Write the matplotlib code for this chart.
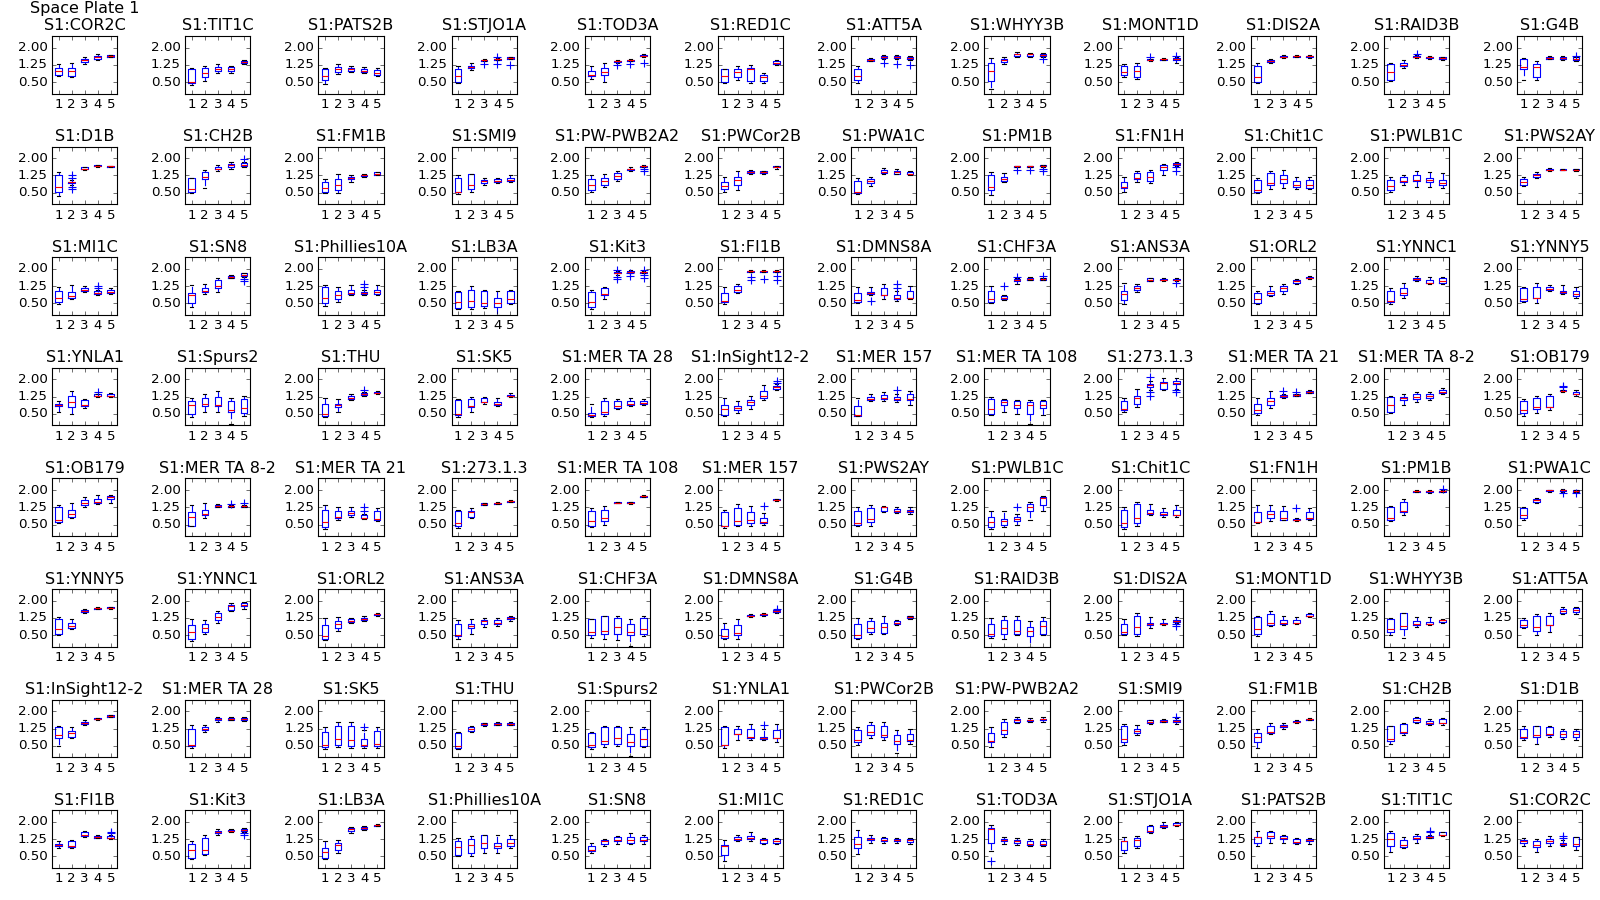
import matplotlib
matplotlib.use('Agg')
import matplotlib.pyplot as plt

plt.style.use('classic')

PLATE = 'Space Plate 1'

names = [
    'COR2C', 'TIT1C', 'PATS2B', 'STJO1A', 'TOD3A', 'RED1C', 'ATT5A', 'WHYY3B', 'MONT1D', 'DIS2A', 'RAID3B', 'G4B',
    'D1B', 'CH2B', 'FM1B', 'SMI9', 'PW-PWB2A2', 'PWCor2B', 'PWA1C', 'PM1B', 'FN1H', 'Chit1C', 'PWLB1C', 'PWS2AY',
    'MI1C', 'SN8', 'Phillies10A', 'LB3A', 'Kit3', 'FI1B', 'DMNS8A', 'CHF3A', 'ANS3A', 'ORL2', 'YNNC1', 'YNNY5',
    'YNLA1', 'Spurs2', 'THU', 'SK5', 'MER TA 28', 'InSight12-2', 'MER 157', 'MER TA 108', '273.1.3', 'MER TA 21', 'MER TA 8-2', 'OB179',
    'OB179', 'MER TA 8-2', 'MER TA 21', '273.1.3', 'MER TA 108', 'MER 157', 'PWS2AY', 'PWLB1C', 'Chit1C', 'FN1H', 'PM1B', 'PWA1C',
    'YNNY5', 'YNNC1', 'ORL2', 'ANS3A', 'CHF3A', 'DMNS8A', 'G4B', 'RAID3B', 'DIS2A', 'MONT1D', 'WHYY3B', 'ATT5A',
    'InSight12-2', 'MER TA 28', 'SK5', 'THU', 'Spurs2', 'YNLA1', 'PWCor2B', 'PW-PWB2A2', 'SMI9', 'FM1B', 'CH2B', 'D1B',
    'FI1B', 'Kit3', 'LB3A', 'Phillies10A', 'SN8', 'MI1C', 'RED1C', 'TOD3A', 'STJO1A', 'PATS2B', 'TIT1C', 'COR2C',
]

# per panel: 5 boxes of (whisker low, q1, median, q3, whisker high)
boxes = [
    [(0.76, 0.81, 1.0, 1.13, 1.3), (0.73, 0.76, 1.0, 1.1, 1.33), (1.3, 1.38, 1.45, 1.52, 1.6), (1.45, 1.52, 1.57, 1.62, 1.7), (1.58, 1.6, 1.63, 1.66, 1.68)],
    [(0.38, 0.48, 0.52, 1.05, 1.1), (0.55, 0.72, 0.88, 1.12, 1.18), (0.9, 1.0, 1.08, 1.15, 1.28), (0.88, 1.0, 1.08, 1.15, 1.2), (1.3, 1.35, 1.38, 1.42, 1.48)],
    [(0.4, 0.6, 0.75, 1.05, 1.1), (0.85, 0.95, 1.05, 1.15, 1.28), (0.95, 1.0, 1.08, 1.13, 1.2), (0.9, 0.95, 1.0, 1.08, 1.15), (0.75, 0.8, 0.9, 1.02, 1.1)],
    [(0.48, 0.5, 0.75, 1.05, 1.2), (1.02, 1.1, 1.15, 1.2, 1.35), (1.4, 1.42, 1.45, 1.48, 1.52), (1.45, 1.47, 1.5, 1.52, 1.55), (1.5, 1.52, 1.55, 1.57, 1.6)],
    [(0.65, 0.75, 0.8, 1.0, 1.2), (0.5, 0.8, 0.95, 1.1, 1.35), (1.35, 1.38, 1.4, 1.42, 1.45), (1.4, 1.42, 1.45, 1.47, 1.5), (1.6, 1.62, 1.65, 1.67, 1.7)],
    [(0.45, 0.5, 0.75, 1.05, 1.08), (0.6, 0.7, 0.95, 1.05, 1.2), (0.45, 0.55, 1.05, 1.1, 1.25), (0.45, 0.55, 0.7, 0.82, 0.9), (1.25, 1.3, 1.35, 1.4, 1.45)],
    [(0.45, 0.6, 0.75, 1.05, 1.2), (1.4, 1.42, 1.45, 1.5, 1.55), (1.5, 1.55, 1.6, 1.62, 1.68), (1.5, 1.55, 1.58, 1.62, 1.68), (1.45, 1.5, 1.55, 1.58, 1.62)],
    [(0.2, 0.55, 1.0, 1.35, 1.55), (1.3, 1.38, 1.45, 1.52, 1.6), (1.6, 1.65, 1.7, 1.74, 1.8), (1.58, 1.65, 1.7, 1.73, 1.78), (1.6, 1.63, 1.67, 1.72, 1.75)],
    [(0.7, 0.8, 0.95, 1.2, 1.3), (0.65, 0.7, 1.0, 1.2, 1.35), (1.42, 1.45, 1.48, 1.5, 1.52), (1.45, 1.47, 1.5, 1.52, 1.55), (1.35, 1.45, 1.5, 1.53, 1.6)],
    [(0.45, 0.5, 0.7, 1.2, 1.35), (1.32, 1.38, 1.42, 1.45, 1.5), (1.55, 1.58, 1.6, 1.63, 1.67), (1.58, 1.6, 1.62, 1.65, 1.68), (1.55, 1.58, 1.62, 1.65, 1.68)],
    [(0.55, 0.6, 0.95, 1.3, 1.32), (1.1, 1.2, 1.25, 1.32, 1.45), (1.55, 1.57, 1.6, 1.62, 1.68), (1.5, 1.55, 1.58, 1.6, 1.65), (1.48, 1.5, 1.55, 1.58, 1.6)],
    [(0.6, 1.05, 1.15, 1.5, 1.55), (0.6, 0.7, 1.15, 1.3, 1.4), (1.5, 1.52, 1.55, 1.6, 1.65), (1.48, 1.52, 1.55, 1.6, 1.65), (1.4, 1.45, 1.5, 1.58, 1.6)],
    # row 2
    [(0.35, 0.55, 0.75, 1.25, 1.4), (0.85, 0.9, 0.95, 0.98, 1.05), (1.48, 1.52, 1.55, 1.6, 1.62), (1.62, 1.64, 1.67, 1.7, 1.72), (1.6, 1.62, 1.65, 1.67, 1.68)],
    [(0.5, 0.55, 0.65, 1.12, 1.15), (0.7, 1.1, 1.2, 1.4, 1.5), (1.45, 1.52, 1.55, 1.6, 1.7), (1.55, 1.62, 1.7, 1.75, 1.85), (1.6, 1.65, 1.72, 1.78, 1.85)],
    [(0.5, 0.55, 0.7, 0.95, 1.1), (0.5, 0.6, 0.85, 1.1, 1.3), (0.95, 1.1, 1.15, 1.2, 1.25), (1.2, 1.23, 1.25, 1.28, 1.32), (1.25, 1.28, 1.32, 1.38, 1.42)],
    [(0.45, 0.55, 0.55, 1.15, 1.25), (0.55, 0.65, 0.85, 1.3, 1.3), (0.85, 0.92, 1.0, 1.05, 1.15), (0.9, 0.97, 1.02, 1.08, 1.15), (0.95, 1.0, 1.05, 1.15, 1.25)],
    [(0.55, 0.6, 0.85, 1.1, 1.25), (0.75, 0.85, 1.0, 1.15, 1.3), (1.0, 1.1, 1.22, 1.35, 1.45), (1.45, 1.5, 1.52, 1.55, 1.6), (1.6, 1.62, 1.65, 1.68, 1.7)],
    [(0.55, 0.65, 0.8, 0.95, 1.2), (0.6, 0.85, 1.05, 1.2, 1.45), (1.3, 1.35, 1.38, 1.45, 1.48), (1.32, 1.35, 1.4, 1.43, 1.45), (1.55, 1.6, 1.63, 1.66, 1.68)],
    [(0.45, 0.5, 0.55, 1.0, 1.15), (0.8, 0.92, 1.0, 1.1, 1.2), (1.3, 1.35, 1.42, 1.47, 1.58), (1.3, 1.33, 1.38, 1.45, 1.52), (1.25, 1.3, 1.33, 1.38, 1.43)],
    [(0.4, 0.6, 0.75, 1.25, 1.38), (0.95, 1.02, 1.1, 1.2, 1.35), (1.6, 1.63, 1.65, 1.67, 1.68), (1.6, 1.63, 1.65, 1.67, 1.68), (1.63, 1.65, 1.67, 1.69, 1.7)],
    [(0.55, 0.7, 0.75, 0.95, 1.2), (0.95, 1.1, 1.15, 1.35, 1.45), (0.9, 1.0, 1.2, 1.4, 1.5), (1.25, 1.5, 1.6, 1.7, 1.75), (1.65, 1.7, 1.75, 1.8, 1.82)],
    [(0.5, 0.55, 0.6, 1.05, 1.15), (0.65, 0.85, 0.9, 1.35, 1.45), (0.7, 0.9, 1.1, 1.25, 1.5), (0.65, 0.75, 0.85, 1.0, 1.2), (0.65, 0.72, 0.85, 1.05, 1.2)],
    [(0.55, 0.6, 0.8, 1.05, 1.2), (0.85, 0.95, 1.0, 1.2, 1.25), (0.75, 1.0, 1.05, 1.25, 1.45), (0.75, 0.95, 1.05, 1.15, 1.4), (0.7, 0.85, 0.9, 1.05, 1.35)],
    [(0.8, 0.85, 0.95, 1.1, 1.2), (1.15, 1.2, 1.25, 1.3, 1.38), (1.45, 1.47, 1.5, 1.53, 1.58), (1.47, 1.48, 1.5, 1.52, 1.55), (1.45, 1.47, 1.5, 1.52, 1.53)],
    # row 3
    [(0.45, 0.55, 0.75, 1.05, 1.2), (0.7, 0.75, 0.8, 1.0, 1.3), (1.0, 1.05, 1.1, 1.15, 1.25), (0.85, 0.9, 0.95, 1.02, 1.1), (0.9, 0.95, 1.0, 1.07, 1.15)],
    [(0.35, 0.5, 0.85, 0.95, 1.3), (0.92, 1.0, 1.05, 1.15, 1.35), (1.0, 1.15, 1.25, 1.5, 1.6), (1.6, 1.62, 1.65, 1.68, 1.72), (1.65, 1.7, 1.75, 1.8, 1.82)],
    [(0.4, 0.5, 0.75, 1.2, 1.3), (0.55, 0.7, 0.85, 1.05, 1.2), (0.85, 0.92, 0.95, 1.1, 1.3), (0.85, 0.9, 0.95, 1.0, 1.1), (0.85, 0.92, 1.0, 1.1, 1.3)],
    [(0.25, 0.3, 0.55, 1.0, 1.05), (0.25, 0.35, 0.6, 1.1, 1.25), (0.3, 0.4, 0.5, 1.05, 1.1), (0.0, 0.35, 0.5, 0.75, 1.05), (0.45, 0.5, 0.7, 1.05, 1.08)],
    [(0.25, 0.35, 0.55, 1.0, 1.1), (0.7, 0.85, 0.9, 1.15, 1.2), (1.75, 1.8, 1.82, 1.85, 1.9), (1.82, 1.85, 1.88, 1.9, 1.95), (1.8, 1.83, 1.85, 1.88, 1.92)],
    [(0.45, 0.55, 0.6, 0.95, 1.2), (0.95, 1.0, 1.1, 1.25, 1.35), (1.85, 1.87, 1.9, 1.92, 1.95), (1.85, 1.88, 1.9, 1.92, 1.93), (1.85, 1.87, 1.9, 1.92, 1.95)],
    [(0.5, 0.55, 0.65, 0.95, 1.2), (0.85, 0.9, 0.95, 1.0, 1.2), (0.7, 0.85, 0.85, 1.15, 1.35), (0.6, 0.7, 0.75, 0.85, 1.05), (0.7, 0.75, 0.75, 1.05, 1.25)],
    [(0.5, 0.55, 0.7, 1.05, 1.25), (0.65, 0.68, 0.75, 0.82, 0.85), (1.35, 1.45, 1.5, 1.55, 1.6), (1.5, 1.52, 1.55, 1.58, 1.65), (1.5, 1.52, 1.55, 1.58, 1.62)],
    [(0.45, 0.65, 0.9, 1.05, 1.4), (1.0, 1.1, 1.17, 1.25, 1.35), (1.45, 1.48, 1.52, 1.58, 1.62), (1.48, 1.5, 1.52, 1.55, 1.58), (1.48, 1.5, 1.52, 1.55, 1.58)],
    [(0.45, 0.5, 0.7, 0.95, 1.05), (0.82, 0.88, 0.95, 1.05, 1.25), (0.9, 1.05, 1.15, 1.25, 1.35), (1.35, 1.4, 1.45, 1.5, 1.55), (1.55, 1.58, 1.62, 1.65, 1.67)],
    [(0.45, 0.55, 0.6, 1.05, 1.15), (0.75, 0.85, 0.95, 1.15, 1.4), (1.45, 1.5, 1.55, 1.62, 1.7), (1.35, 1.38, 1.4, 1.5, 1.65), (1.35, 1.4, 1.45, 1.6, 1.65)],
    [(0.55, 0.6, 0.7, 1.15, 1.2), (0.5, 0.75, 0.75, 1.2, 1.4), (1.05, 1.08, 1.12, 1.2, 1.3), (0.9, 0.95, 1.0, 1.05, 1.3), (0.75, 0.8, 0.9, 1.05, 1.2)],
    # row 4
    [(0.6, 0.85, 0.9, 0.95, 1.05), (0.5, 0.8, 1.0, 1.3, 1.5), (0.75, 0.85, 0.9, 1.1, 1.15), (1.25, 1.28, 1.3, 1.35, 1.38), (1.25, 1.28, 1.3, 1.35, 1.4)],
    [(0.35, 0.5, 0.9, 1.05, 1.2), (0.6, 0.85, 0.95, 1.2, 1.35), (0.6, 0.85, 0.9, 1.25, 1.5), (0.05, 0.6, 0.65, 1.05, 1.2), (0.4, 0.55, 0.75, 1.15, 1.3)],
    [(0.35, 0.4, 0.5, 0.95, 1.2), (0.6, 0.8, 0.9, 0.95, 1.15), (1.1, 1.15, 1.2, 1.28, 1.38), (1.3, 1.33, 1.35, 1.4, 1.45), (1.38, 1.4, 1.43, 1.47, 1.5)],
    [(0.35, 0.45, 0.5, 1.1, 1.15), (0.6, 0.8, 0.85, 1.15, 1.25), (0.95, 1.0, 1.0, 1.2, 1.25), (0.85, 0.9, 0.95, 1.0, 1.2), (1.22, 1.27, 1.3, 1.33, 1.4)],
    [(0.35, 0.4, 0.45, 0.55, 0.95), (0.4, 0.5, 0.6, 1.05, 1.2), (0.7, 0.75, 0.85, 1.05, 1.15), (0.85, 0.9, 0.95, 1.05, 1.2), (0.9, 0.95, 0.98, 1.05, 1.15)],
    [(0.4, 0.45, 0.7, 0.9, 1.2), (0.55, 0.65, 0.75, 0.85, 1.05), (0.7, 0.9, 1.0, 1.1, 1.3), (1.1, 1.2, 1.3, 1.5, 1.75), (1.55, 1.6, 1.65, 1.7, 1.78)],
    [(0.4, 0.42, 0.45, 0.85, 1.2), (1.05, 1.1, 1.15, 1.25, 1.35), (1.05, 1.15, 1.2, 1.32, 1.45), (1.0, 1.1, 1.15, 1.25, 1.35), (0.9, 1.1, 1.15, 1.35, 1.5)],
    [(0.45, 0.5, 0.7, 1.15, 1.25), (0.6, 0.9, 1.0, 1.1, 1.15), (0.5, 0.75, 0.9, 1.05, 1.1), (0.05, 0.5, 0.9, 1.0, 1.1), (0.45, 0.75, 0.9, 1.05, 1.1)],
    [(0.6, 0.65, 0.7, 1.05, 1.2), (0.8, 0.95, 1.2, 1.3, 1.6), (1.55, 1.65, 1.75, 1.8, 1.95), (1.55, 1.6, 1.85, 1.9, 2.05), (1.6, 1.8, 1.85, 1.95, 2.05)],
    [(0.45, 0.55, 0.65, 0.95, 1.2), (0.75, 0.9, 1.05, 1.2, 1.5), (1.2, 1.22, 1.28, 1.32, 1.38), (1.28, 1.3, 1.32, 1.35, 1.38), (1.4, 1.42, 1.45, 1.48, 1.52)],
    [(0.55, 0.6, 0.9, 1.25, 1.28), (0.9, 1.1, 1.2, 1.25, 1.38), (1.0, 1.15, 1.25, 1.35, 1.45), (1.1, 1.2, 1.3, 1.35, 1.45), (1.35, 1.4, 1.45, 1.55, 1.62)],
    [(0.4, 0.55, 0.65, 1.05, 1.15), (0.55, 0.7, 0.8, 1.2, 1.3), (0.65, 0.8, 0.8, 1.3, 1.35), (1.45, 1.48, 1.5, 1.52, 1.55), (1.3, 1.35, 1.38, 1.45, 1.52)],
    # row 5
    [(0.55, 0.6, 0.7, 1.25, 1.35), (0.8, 0.85, 0.95, 1.15, 1.45), (1.25, 1.35, 1.45, 1.55, 1.7), (1.4, 1.43, 1.48, 1.6, 1.8), (1.45, 1.6, 1.68, 1.75, 1.8)],
    [(0.45, 0.45, 0.85, 1.05, 1.35), (0.8, 0.9, 0.98, 1.15, 1.45), (1.25, 1.27, 1.3, 1.35, 1.38), (1.27, 1.28, 1.3, 1.32, 1.35), (1.25, 1.27, 1.3, 1.32, 1.35)],
    [(0.3, 0.4, 0.6, 1.15, 1.35), (0.7, 0.8, 0.85, 1.1, 1.25), (0.85, 0.9, 1.0, 1.1, 1.25), (0.75, 0.78, 0.8, 0.9, 0.95), (0.65, 0.7, 0.75, 1.1, 1.2)],
    [(0.35, 0.45, 0.55, 1.1, 1.15), (0.8, 0.85, 1.05, 1.1, 1.2), (1.35, 1.37, 1.4, 1.42, 1.45), (1.38, 1.4, 1.42, 1.44, 1.47), (1.47, 1.5, 1.52, 1.54, 1.57)],
    [(0.4, 0.45, 0.65, 1.1, 1.2), (0.5, 0.65, 0.8, 1.15, 1.3), (1.42, 1.43, 1.45, 1.46, 1.48), (1.4, 1.42, 1.45, 1.47, 1.5), (1.68, 1.7, 1.73, 1.75, 1.77)],
    [(0.35, 0.45, 0.45, 1.05, 1.15), (0.45, 0.5, 0.65, 1.2, 1.4), (0.45, 0.55, 0.7, 1.05, 1.3), (0.5, 0.55, 0.6, 0.8, 1.0), (1.52, 1.55, 1.57, 1.6, 1.62)],
    [(0.45, 0.5, 0.55, 1.1, 1.25), (0.45, 0.6, 0.75, 1.2, 1.35), (1.05, 1.1, 1.25, 1.28, 1.3), (1.0, 1.05, 1.1, 1.18, 1.25), (0.95, 1.05, 1.1, 1.15, 1.25)],
    [(0.3, 0.4, 0.6, 0.85, 1.1), (0.4, 0.5, 0.65, 0.75, 1.1), (0.5, 0.65, 0.75, 0.85, 0.95), (0.7, 1.1, 1.25, 1.4, 1.5), (1.1, 1.35, 1.65, 1.7, 1.75)],
    [(0.3, 0.4, 0.55, 1.15, 1.25), (0.45, 0.55, 0.8, 1.4, 1.5), (0.9, 0.95, 1.0, 1.15, 1.4), (0.85, 0.9, 0.95, 1.05, 1.2), (0.85, 0.9, 0.9, 1.15, 1.35)],
    [(0.55, 0.6, 0.6, 1.05, 1.35), (0.65, 0.8, 0.95, 1.1, 1.35), (0.7, 0.7, 0.8, 1.1, 1.3), (0.65, 0.68, 0.7, 0.75, 0.8), (0.7, 0.75, 0.8, 1.05, 1.2)],
    [(0.65, 0.7, 0.8, 1.25, 1.3), (0.9, 1.05, 1.1, 1.5, 1.6), (1.9, 1.92, 1.95, 1.97, 1.98), (1.85, 1.92, 1.95, 1.97, 1.98), (1.9, 1.92, 1.95, 1.97, 1.98)],
    [(0.7, 0.8, 0.9, 1.2, 1.25), (1.45, 1.5, 1.55, 1.6, 1.65), (1.93, 1.95, 1.98, 2.0, 2.02), (1.9, 1.95, 1.98, 2.0, 2.03), (1.9, 1.93, 1.97, 1.99, 2.02)],
    # row 6
    [(0.5, 0.55, 0.75, 1.2, 1.3), (0.75, 0.8, 0.9, 1.05, 1.2), (1.45, 1.5, 1.55, 1.58, 1.62), (1.62, 1.65, 1.68, 1.7, 1.72), (1.65, 1.67, 1.7, 1.72, 1.73)],
    [(0.25, 0.35, 0.65, 0.95, 1.2), (0.55, 0.65, 0.8, 1.0, 1.15), (1.05, 1.15, 1.3, 1.45, 1.55), (1.55, 1.6, 1.75, 1.8, 1.9), (1.65, 1.78, 1.8, 1.88, 1.95)],
    [(0.3, 0.35, 0.45, 0.95, 1.25), (0.7, 0.8, 1.0, 1.1, 1.3), (1.05, 1.08, 1.1, 1.2, 1.25), (1.12, 1.15, 1.2, 1.25, 1.32), (1.35, 1.37, 1.4, 1.43, 1.45)],
    [(0.35, 0.45, 0.5, 1.0, 1.15), (0.55, 0.8, 0.9, 1.0, 1.2), (0.85, 1.0, 1.1, 1.15, 1.25), (0.9, 0.97, 1.05, 1.15, 1.25), (1.1, 1.2, 1.25, 1.3, 1.35)],
    [(0.4, 0.5, 0.65, 1.2, 1.2), (0.35, 0.55, 0.7, 1.35, 1.35), (0.3, 0.55, 0.85, 1.25, 1.35), (0.05, 0.5, 0.65, 1.0, 1.2), (0.45, 0.55, 0.75, 1.25, 1.35)],
    [(0.35, 0.4, 0.45, 0.75, 1.05), (0.35, 0.5, 0.6, 0.95, 1.2), (1.3, 1.32, 1.35, 1.37, 1.4), (1.35, 1.37, 1.4, 1.43, 1.45), (1.45, 1.5, 1.55, 1.6, 1.62)],
    [(0.35, 0.4, 0.5, 1.0, 1.25), (0.55, 0.65, 0.8, 1.1, 1.25), (0.55, 0.6, 0.85, 1.05, 1.35), (0.95, 1.0, 1.05, 1.12, 1.15), (1.2, 1.25, 1.28, 1.32, 1.35)],
    [(0.4, 0.45, 0.55, 1.0, 1.25), (0.35, 0.55, 0.8, 1.15, 1.35), (0.5, 0.55, 0.7, 1.15, 1.35), (0.0, 0.45, 0.7, 0.85, 1.1), (0.5, 0.55, 0.9, 1.1, 1.3)],
    [(0.5, 0.55, 0.65, 1.0, 1.2), (0.45, 0.55, 0.85, 1.35, 1.45), (0.8, 0.95, 1.0, 1.05, 1.3), (0.95, 0.97, 1.0, 1.05, 1.2), (1.05, 1.08, 1.1, 1.15, 1.3)],
    [(0.45, 0.55, 0.75, 1.3, 1.35), (0.9, 0.95, 1.05, 1.4, 1.55), (0.95, 1.0, 1.05, 1.15, 1.35), (1.0, 1.02, 1.05, 1.15, 1.3), (1.3, 1.32, 1.35, 1.4, 1.45)],
    [(0.5, 0.65, 0.75, 1.2, 1.25), (0.4, 0.75, 0.9, 1.45, 1.45), (0.85, 0.95, 1.0, 1.1, 1.3), (0.95, 0.98, 1.0, 1.08, 1.3), (1.05, 1.08, 1.15, 1.18, 1.22)],
    [(0.8, 0.85, 0.95, 1.15, 1.25), (0.5, 0.7, 0.85, 1.35, 1.4), (0.65, 0.95, 0.95, 1.35, 1.45), (1.4, 1.45, 1.55, 1.65, 1.72), (1.4, 1.5, 1.6, 1.68, 1.72)],
    # row 7
    [(0.5, 0.85, 0.95, 1.3, 1.38), (0.85, 0.9, 1.05, 1.15, 1.3), (1.4, 1.45, 1.5, 1.55, 1.6), (1.63, 1.65, 1.67, 1.7, 1.72), (1.75, 1.77, 1.8, 1.82, 1.83)],
    [(0.4, 0.5, 0.55, 1.25, 1.4), (1.1, 1.2, 1.25, 1.32, 1.4), (1.55, 1.6, 1.65, 1.7, 1.75), (1.6, 1.63, 1.68, 1.72, 1.75), (1.58, 1.6, 1.65, 1.7, 1.73)],
    [(0.35, 0.45, 0.55, 1.1, 1.3), (0.45, 0.55, 0.8, 1.35, 1.55), (0.4, 0.5, 0.75, 1.35, 1.55), (0.4, 0.5, 0.55, 0.8, 1.2), (0.4, 0.5, 0.6, 1.15, 1.3)],
    [(0.35, 0.4, 0.5, 1.05, 1.1), (1.1, 1.15, 1.25, 1.3, 1.38), (1.38, 1.4, 1.43, 1.47, 1.5), (1.4, 1.42, 1.45, 1.48, 1.52), (1.4, 1.42, 1.45, 1.48, 1.52)],
    [(0.35, 0.45, 0.55, 1.05, 1.1), (0.45, 0.6, 0.7, 1.3, 1.35), (0.5, 0.6, 0.85, 1.3, 1.35), (0.05, 0.5, 0.65, 1.0, 1.3), (0.45, 0.5, 0.8, 1.25, 1.3)],
    [(0.4, 0.55, 0.55, 1.3, 1.35), (0.75, 1.0, 1.0, 1.25, 1.35), (0.75, 0.85, 0.9, 1.25, 1.45), (0.75, 0.78, 0.85, 0.9, 1.25), (0.65, 0.85, 0.85, 1.2, 1.45)],
    [(0.55, 0.65, 0.75, 1.2, 1.3), (0.85, 0.95, 1.1, 1.4, 1.55), (0.75, 0.9, 0.95, 1.35, 1.55), (0.2, 0.6, 0.7, 0.95, 1.2), (0.6, 0.7, 0.75, 1.0, 1.25)],
    [(0.45, 0.65, 0.7, 1.05, 1.3), (0.9, 1.0, 1.2, 1.55, 1.65), (1.5, 1.55, 1.6, 1.65, 1.75), (1.55, 1.57, 1.6, 1.63, 1.7), (1.55, 1.6, 1.65, 1.68, 1.73)],
    [(0.55, 0.65, 0.8, 1.35, 1.45), (0.95, 1.05, 1.15, 1.25, 1.4), (1.45, 1.5, 1.55, 1.6, 1.62), (1.52, 1.55, 1.58, 1.62, 1.65), (1.45, 1.52, 1.57, 1.62, 1.7)],
    [(0.4, 0.65, 0.9, 1.05, 1.25), (1.0, 1.05, 1.1, 1.35, 1.48), (1.25, 1.3, 1.35, 1.42, 1.47), (1.5, 1.52, 1.55, 1.57, 1.6), (1.62, 1.64, 1.66, 1.68, 1.7)],
    [(0.6, 0.7, 0.8, 1.35, 1.38), (0.95, 1.05, 1.1, 1.45, 1.5), (1.5, 1.55, 1.6, 1.7, 1.75), (1.4, 1.45, 1.5, 1.58, 1.65), (1.4, 1.5, 1.5, 1.65, 1.7)],
    [(0.75, 0.85, 0.9, 1.25, 1.35), (0.6, 0.9, 0.95, 1.35, 1.38), (0.9, 0.95, 1.0, 1.3, 1.35), (0.8, 0.9, 1.0, 1.15, 1.25), (0.75, 0.9, 1.0, 1.15, 1.25)],
    # row 8
    [(0.85, 0.95, 1.0, 1.05, 1.15), (0.85, 0.9, 0.95, 1.15, 1.2), (1.35, 1.4, 1.45, 1.55, 1.62), (1.3, 1.32, 1.35, 1.4, 1.42), (1.25, 1.3, 1.32, 1.38, 1.42)],
    [(0.4, 0.45, 0.8, 1.05, 1.15), (0.55, 0.6, 0.8, 1.3, 1.45), (1.45, 1.5, 1.55, 1.6, 1.7), (1.55, 1.6, 1.62, 1.65, 1.68), (1.55, 1.6, 1.65, 1.7, 1.72)],
    [(0.4, 0.45, 0.7, 0.85, 1.15), (0.65, 0.8, 1.0, 1.1, 1.2), (1.5, 1.6, 1.68, 1.75, 1.78), (1.65, 1.7, 1.73, 1.77, 1.8), (1.8, 1.83, 1.85, 1.88, 1.9)],
    [(0.5, 0.55, 0.9, 1.15, 1.3), (0.5, 0.65, 1.0, 1.25, 1.4), (0.65, 0.85, 1.1, 1.45, 1.45), (0.65, 0.85, 0.95, 1.1, 1.45), (0.85, 0.95, 1.1, 1.25, 1.45)],
    [(0.65, 0.75, 0.8, 0.95, 1.1), (0.95, 1.05, 1.15, 1.2, 1.25), (1.05, 1.15, 1.2, 1.35, 1.4), (1.05, 1.1, 1.2, 1.35, 1.5), (1.05, 1.15, 1.2, 1.35, 1.45)],
    [(0.3, 0.55, 0.95, 0.98, 1.2), (1.15, 1.2, 1.25, 1.35, 1.45), (1.15, 1.25, 1.3, 1.4, 1.55), (1.05, 1.1, 1.2, 1.25, 1.3), (1.05, 1.1, 1.18, 1.25, 1.3)],
    [(0.6, 0.85, 1.05, 1.35, 1.65), (1.1, 1.2, 1.25, 1.3, 1.45), (1.1, 1.15, 1.22, 1.28, 1.35), (1.1, 1.15, 1.2, 1.25, 1.3), (1.05, 1.12, 1.2, 1.25, 1.3)],
    [(0.75, 1.1, 1.7, 1.75, 1.85), (1.05, 1.15, 1.2, 1.25, 1.35), (1.0, 1.08, 1.15, 1.2, 1.3), (0.95, 1.0, 1.05, 1.15, 1.25), (0.95, 1.0, 1.05, 1.15, 1.25)],
    [(0.65, 0.8, 1.15, 1.15, 1.35), (0.85, 0.95, 1.2, 1.3, 1.38), (1.5, 1.55, 1.6, 1.8, 1.85), (1.75, 1.78, 1.82, 1.87, 1.98), (1.8, 1.85, 1.88, 1.95, 2.0)],
    [(0.95, 1.1, 1.35, 1.35, 1.6), (1.1, 1.3, 1.4, 1.55, 1.6), (1.1, 1.25, 1.3, 1.4, 1.45), (1.05, 1.08, 1.12, 1.25, 1.3), (1.05, 1.15, 1.2, 1.25, 1.3)],
    [(0.7, 0.95, 1.25, 1.5, 1.6), (0.85, 0.9, 1.0, 1.2, 1.35), (1.1, 1.25, 1.3, 1.4, 1.48), (1.3, 1.32, 1.35, 1.4, 1.45), (1.4, 1.42, 1.45, 1.55, 1.58)],
    [(0.95, 1.1, 1.15, 1.2, 1.3), (0.7, 0.9, 1.0, 1.15, 1.25), (0.95, 1.1, 1.15, 1.25, 1.4), (0.95, 1.0, 1.05, 1.1, 1.2), (0.8, 0.95, 1.05, 1.35, 1.35)],
]

# outliers: (panel index, box index) -> values
fliers = {
    (3, 2): [1.3], (3, 3): [1.3, 1.6], (3, 4): [1.25],
    (4, 2): [1.25], (4, 3): [1.3], (4, 4): [1.35],
    (6, 2): [1.35], (6, 3): [1.3], (6, 4): [1.25],
    (7, 4): [1.5],
    (8, 2): [1.6], (8, 4): [1.65],
    (10, 2): [1.7],
    (11, 4): [1.65],
    (12, 1): [0.65, 0.75, 1.15, 1.25],
    (13, 4): [1.95],
    (16, 4): [1.45, 1.55],
    (19, 2): [1.5], (19, 3): [1.5], (19, 4): [1.45, 1.55],
    (20, 4): [1.45, 1.6],
    (24, 3): [1.15, 1.25],
    (25, 4): [1.45, 1.55],
    (26, 3): [1.22, 1.35],
    (28, 2): [1.55, 1.65, 1.95], (28, 3): [1.7, 1.8], (28, 4): [1.6, 1.75, 1.95],
    (29, 2): [1.5, 1.65], (29, 3): [1.55], (29, 4): [1.5, 1.7],
    (30, 1): [0.6], (30, 3): [1.15, 1.35],
    (31, 1): [1.25], (31, 2): [1.65], (31, 4): [1.7],
    (32, 4): [1.4],
    (36, 3): [1.45],
    (38, 3): [1.55],
    (41, 4): [1.85, 1.95],
    (42, 3): [1.55],
    (44, 2): [1.3, 1.45, 2.1], (44, 4): [1.45, 1.55],
    (45, 2): [1.5], (45, 3): [1.45],
    (47, 3): [1.65, 1.7],
    (49, 3): [1.4], (49, 4): [1.42],
    (50, 3): [1.1, 1.25],
    (53, 3): [1.3],
    (55, 2): [1.25],
    (57, 3): [1.2],
    (58, 4): [2.05],
    (59, 3): [1.85], (59, 4): [1.85],
    (65, 4): [1.65],
    (68, 4): [0.9, 1.0],
    (74, 3): [1.3],
    (77, 3): [1.4],
    (80, 4): [1.75],
    (84, 4): [1.5, 1.55],
    (85, 4): [1.45, 1.5],
    (91, 0): [0.3],
    (94, 3): [1.55, 1.6],
    (95, 3): [1.3, 1.4],
}

groups = ['1', '2', '3', '4', '5']
yticks = [0.5, 1.25, 2.0]

fig, axes = plt.subplots(8, 12, figsize=(20, 11.25), dpi=80)
fig.patch.set_facecolor('white')
fig.subplots_adjust(left=0.0325, right=0.989, bottom=0.0356, top=0.96, wspace=1.04, hspace=0.92)

flier_style = dict(marker='+', markeredgecolor='b', markerfacecolor='none', markersize=7, linestyle='none')

for i, ax in enumerate(axes.flat):
    stats = []
    for j, (lo, q1, med, q3, hi) in enumerate(boxes[i]):
        stats.append(dict(label=groups[j], whislo=lo, q1=q1, med=med, q3=q3, whishi=hi,
                          fliers=fliers.get((i, j), [])))
    ax.bxp(stats, positions=range(1, 6), widths=0.5, flierprops=flier_style)
    ax.set_xlim(0.5, 5.5)
    ax.set_ylim(0, 2.5)
    ax.set_yticks(yticks)
    ax.set_yticklabels(['%.2f' % t for t in yticks])
    title = 'S1:' + names[i]
    if i == 0:
        title = PLATE + '\n' + title
    ax.set_title(title)

fig.savefig('out.png', dpi=80, facecolor='white')
